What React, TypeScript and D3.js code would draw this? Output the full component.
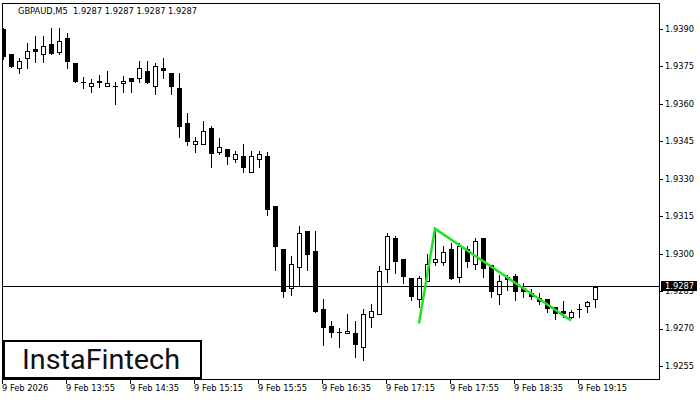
import React from 'react';
import * as d3 from 'd3';

const opens = [1.939, 1.938, 1.93744, 1.93784, 1.9382, 1.938, 1.9384, 1.93808, 1.93864, 1.93764,
  1.93686, 1.93672, 1.93692, 1.93672, 1.93672, 1.93684, 1.93704, 1.93704, 1.93732, 1.93672,
  1.93744, 1.93724, 1.93664, 1.93524, 1.9344, 1.9344, 1.93504, 1.93408, 1.9342, 1.9338,
  1.93392, 1.93328, 1.9338, 1.93392, 1.93192, 1.9302, 1.92864, 1.92948, 1.93092, 1.93012,
  1.9278, 1.92712, 1.92688, 1.92684, 1.92684, 1.92628, 1.92748, 1.9276, 1.9294, 1.93064,
  1.9298, 1.92904, 1.9282, 1.92892, 1.92968, 1.92968, 1.9302, 1.92908, 1.9302, 1.9296,
  1.93064, 1.92956, 1.9284, 1.92908, 1.92912, 1.92864, 1.92844, 1.92824, 1.9282, 1.92788,
  1.92772, 1.92748, 1.9278, 1.92792, 1.9282];
const highs = [1.93904, 1.938, 1.93784, 1.93844, 1.93872, 1.93872, 1.93904, 1.93904, 1.93884, 1.93764,
  1.93708, 1.937, 1.93716, 1.93732, 1.93688, 1.93712, 1.93704, 1.93772, 1.93772, 1.93764,
  1.93784, 1.93724, 1.93724, 1.93564, 1.93468, 1.93532, 1.93512, 1.93464, 1.9342, 1.93412,
  1.9344, 1.93412, 1.93412, 1.93408, 1.93192, 1.9302, 1.92992, 1.93112, 1.93092, 1.93092,
  1.9282, 1.92732, 1.92704, 1.9276, 1.92732, 1.9278, 1.928, 1.92952, 1.93084, 1.93072,
  1.9298, 1.92904, 1.92912, 1.93, 1.931, 1.93032, 1.93044, 1.93044, 1.93032, 1.93064,
  1.93064, 1.92956, 1.92916, 1.92916, 1.9292, 1.92884, 1.9286, 1.92844, 1.9282, 1.92788,
  1.92812, 1.92776, 1.928, 1.92812, 1.92866];
const lows = [1.9378, 1.93748, 1.93724, 1.93744, 1.93768, 1.93768, 1.938, 1.938, 1.93744, 1.93688,
  1.93664, 1.93648, 1.93668, 1.93672, 1.936, 1.93648, 1.93648, 1.93688, 1.93684, 1.9364,
  1.93704, 1.9364, 1.93468, 1.93436, 1.93408, 1.9344, 1.93348, 1.934, 1.9336, 1.93368,
  1.93328, 1.93328, 1.93348, 1.93156, 1.92936, 1.92828, 1.92836, 1.92872, 1.92936, 1.92768,
  1.92636, 1.92668, 1.92628, 1.92684, 1.92588, 1.92576, 1.92708, 1.9276, 1.92888, 1.92924,
  1.92884, 1.92816, 1.92788, 1.92892, 1.92956, 1.92956, 1.929, 1.92888, 1.92948, 1.9294,
  1.92908, 1.92828, 1.928, 1.92856, 1.92816, 1.92828, 1.9282, 1.928, 1.92768, 1.9274,
  1.92748, 1.92744, 1.92748, 1.92768, 1.92788];
const closes = [1.93788, 1.93748, 1.93772, 1.93812, 1.93808, 1.93832, 1.938, 1.93852, 1.93768, 1.93688,
  1.93684, 1.93684, 1.93684, 1.93684, 1.93672, 1.93692, 1.93688, 1.93744, 1.93684, 1.93752,
  1.93732, 1.93668, 1.93508, 1.93448, 1.93452, 1.93492, 1.934, 1.93428, 1.93388, 1.934,
  1.93344, 1.93392, 1.934, 1.93176, 1.93028, 1.92848, 1.9296, 1.93084, 1.92996, 1.92768,
  1.92704, 1.92684, 1.92688, 1.92692, 1.92636, 1.9276, 1.92772, 1.92932, 1.93072, 1.92968,
  1.92908, 1.92828, 1.92904, 1.9296, 1.9298, 1.93008, 1.929, 1.93032, 1.92968, 1.93052,
  1.9294, 1.92848, 1.92892, 1.92896, 1.92848, 1.92848, 1.92828, 1.92808, 1.9278, 1.9276,
  1.9276, 1.92768, 1.9278, 1.92808, 1.92866];

const xTickIdx = [0, 8, 16, 24, 32, 40, 48, 56, 64, 72];
const xTickLabels = ['9 Feb 2026', '9 Feb 13:55', '9 Feb 14:35', '9 Feb 15:15', '9 Feb 15:55',
  '9 Feb 16:35', '9 Feb 17:15', '9 Feb 17:55', '9 Feb 18:35', '9 Feb 19:15'];
const yTicks = [1.939, 1.9375, 1.936, 1.9345, 1.933, 1.9315, 1.93, 1.9285, 1.927, 1.9255];
const patternIdx = [52, 54, 71];
const patternPrice = [1.9272, 1.931, 1.92732];
const lastPrice = 1.9287;
const headerText = 'GBPAUD,M5  1.9287 1.9287 1.9287 1.9287';

export default function App() {
  const W = 700, H = 400;
  const left = 2, right = 659, top = 3, bottom = 379;
  const x = d3.scaleLinear().domain([0, 74]).range([3, 595]);
  const y = d3.scaleLinear().domain([1.9255, 1.939]).range([366, 29]);
  const font = 'DejaVu Sans, Verdana, sans-serif';
  const line = d3.line<number>().x((d, i) => x(patternIdx[i])).y((d) => y(d));

  const candles = opens.map((o, i) => {
    const c = closes[i];
    const cx = Math.round(x(i));
    const yH = Math.round(y(highs[i]));
    const yL = Math.round(y(lows[i]));
    const yT = Math.round(y(Math.max(o, c)));
    const yB = Math.round(y(Math.min(o, c)));
    const bull = c > o;
    const h = Math.max(1, yB - yT);
    return (
      <g key={i}>
        <line x1={cx + 0.5} x2={cx + 0.5} y1={yH} y2={yL + 1} stroke="#000" strokeWidth={1} />
        {bull && h >= 2 ? (
          <rect x={cx - 2 + 0.5} y={yT + 0.5} width={4} height={h} fill="#fff" stroke="#000" strokeWidth={1} />
        ) : (
          <rect x={cx - 2} y={yT} width={5} height={h} fill="#000" />
        )}
      </g>
    );
  });

  return (
    <svg width={W} height={H} style={{ position: 'absolute', left: 0, top: 0, background: '#fff' }}
      shapeRendering="crispEdges">
      <defs>
        <clipPath id="plot">
          <rect x={left} y={top} width={right - left} height={bottom - top} />
        </clipPath>
      </defs>
      <rect x={0} y={0} width={W} height={H} fill="#fff" />
      <g clipPath="url(#plot)">{candles}</g>
      <line x1={left} x2={right} y1={Math.round(y(lastPrice)) + 0.5} y2={Math.round(y(lastPrice)) + 0.5} stroke="#000" />
      <path d={line(patternPrice) || ''} fill="none" stroke="#22e022" strokeWidth={2.5}
        shapeRendering="geometricPrecision" strokeLinejoin="miter" />
      <rect x={left + 0.5} y={top + 0.5} width={right - left} height={bottom - top} fill="none" stroke="#000" />
      {yTicks.map((t) => (
        <g key={t}>
          <line x1={right} x2={right + 4} y1={Math.round(y(t)) + 0.5} y2={Math.round(y(t)) + 0.5} stroke="#000" />
          <text x={665} y={y(t)} dy="0.35em" fontFamily={font} fontSize={8.3} fill="#000"
            shapeRendering="auto">{t.toFixed(4)}</text>
        </g>
      ))}
      <rect x={661} y={Math.round(y(lastPrice)) - 5} width={36} height={10} fill="#000" />
      <text x={665} y={y(lastPrice)} dy="0.35em" fontFamily={font} fontSize={8.3} fill="#fff">{lastPrice.toFixed(4)}</text>
      {xTickIdx.map((idx, k) => (
        <g key={idx}>
          <line x1={Math.round(x(idx)) - 0.5} x2={Math.round(x(idx)) - 0.5} y1={bottom} y2={bottom + 5} stroke="#000" />
          <text x={Math.round(x(idx)) - 1} y={391} fontFamily={font} fontSize={8.3} fill="#000">{xTickLabels[k]}</text>
        </g>
      ))}
      <text x={18} y={14} fontFamily={font} fontSize={8.3} fill="#000" style={{ whiteSpace: 'pre' }}>{headerText}</text>
      <rect x={4} y={341} width={197} height={37} fill="#fff" stroke="#000" strokeWidth={2} />
      <text x={22} y={369} fontFamily="Roboto, 'Open Sans', sans-serif" fontSize={28} fontWeight={400} fill="#111"
        textLength={158} lengthAdjust="spacingAndGlyphs">InstaFintech</text>
    </svg>
  );
}
